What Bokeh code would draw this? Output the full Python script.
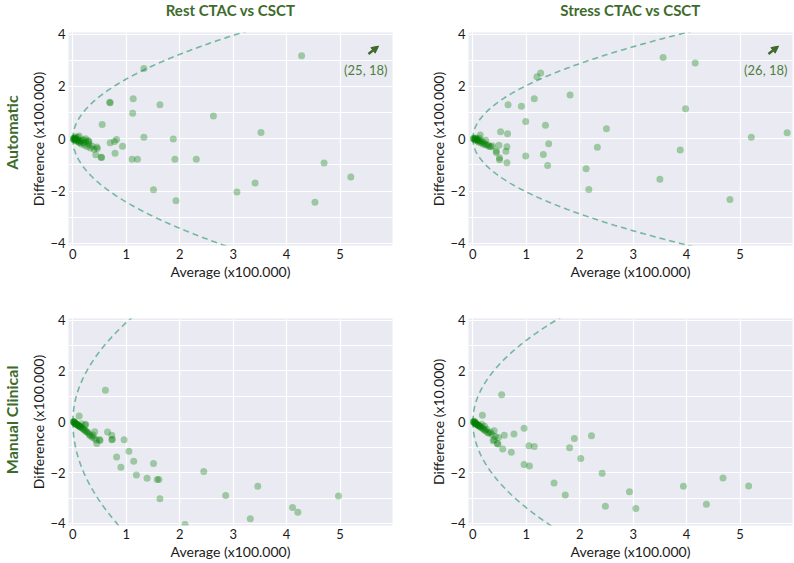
from bokeh.plotting import figure
from bokeh.layouts import column, row
from bokeh.models import Range1d, FixedTicker, Arrow, NormalHead, Label, Spacer
from bokeh.embed import file_html
from bokeh.resources import INLINE
import numpy as np

# ---------------- data ----------------
col_titles = ["Rest CTAC vs CSCT", "Stress CTAC vs CSCT"]
row_labels = ["Automatic", "Manual Clinical"]
x_label = "Average (x100.000)"
y_labels = ["Difference (x100.000)", "Difference (x100.000)",
            "Difference (x100.000)", "Difference (x10.000)"]
x_ticks = [0, 1, 2, 3, 4, 5]
y_ticks = [-4, -2, 0, 2, 4]
y_minor = [-3, -1, 1, 3]
outlier_labels = ["(25, 18)", "(26, 18)"]

# Automatic / Rest
tl_avg = [1.33, 4.28, 0.69, 0.70, 1.13, 1.63, 1.12, 2.63, 0.55, 3.52, 1.33, 1.88, 0.82,
          0.70, 0.78, 0.93, 0.79, 0.45, 0.43, 0.53, 0.54, 1.11, 1.21, 1.91, 2.31, 4.70,
          5.20, 3.41, 1.51, 3.07, 1.93, 4.53,
          0.02, 0.03, 0.04, 0.05, 0.06, 0.07, 0.08, 0.09, 0.10, 0.11, 0.12, 0.13, 0.15,
          0.16, 0.18, 0.20, 0.22, 0.24, 0.25, 0.27, 0.29, 0.30, 0.33, 0.36, 0.40, 0.12,
          0.05, 0.01, 0.02, 0.03, 0.21, 0.30, 0.46]
tl_diff = [2.68, 3.17, 1.39, 1.38, 1.53, 1.30, 0.97, 0.87, 0.54, 0.24, 0.06, -0.01, -0.03,
           -0.15, -0.11, -0.29, -0.55, -0.32, -0.61, -0.71, -0.72, -0.78, -0.78, -0.78, -0.78, -0.93,
           -1.46, -1.69, -1.95, -2.04, -2.37, -2.43,
           0.00, -0.02, 0.02, -0.05, 0.00, -0.08, -0.03, -0.10, 0.05, -0.12, -0.06, -0.15, -0.10,
           -0.20, -0.05, -0.15, -0.25, 0.00, -0.12, -0.30, -0.08, -0.20, -0.35, -0.28, -0.40, 0.10,
           0.08, 0.01, -0.04, 0.03, -0.05, -0.11, -0.37]

# Automatic / Stress
tr_avg = [3.56, 4.16, 1.27, 1.20, 1.82, 1.15, 0.66, 0.91, 3.98, 0.99, 1.36, 2.50, 0.52,
          0.65, 5.88, 5.21, 1.42, 0.64, 0.49, 2.33, 3.88, 0.62, 0.44, 0.99, 1.32, 0.50,
          0.50, 0.64, 1.40, 2.12, 3.50, 2.17, 4.81,
          0.01, 0.02, 0.03, 0.04, 0.05, 0.06, 0.07, 0.08, 0.09, 0.10, 0.11, 0.12, 0.13,
          0.14, 0.15, 0.17, 0.19, 0.21, 0.23, 0.24, 0.26, 0.29, 0.31, 0.34, 0.37, 0.44]
tr_diff = [3.10, 2.89, 2.51, 2.37, 1.67, 1.53, 1.30, 1.24, 1.15, 0.66, 0.52, 0.38, 0.27,
           0.19, 0.23, 0.06, -0.19, -0.31, -0.25, -0.33, -0.43, -0.48, -0.53, -0.66, -0.60, -0.73,
           -0.80, -0.92, -1.02, -1.15, -1.55, -1.94, -2.32,
           0.00, 0.02, -0.02, 0.01, -0.04, 0.03, -0.06, -0.02, -0.09, -0.04, -0.12, 0.02, -0.08,
           0.14, -0.15, -0.10, -0.20, -0.15, -0.22, -0.06, -0.25, -0.24, -0.30, -0.31, -0.28, -0.47]

# Manual Clinical / Rest
bl_avg = [0.61, 0.12, 0.23, 0.41, 0.65, 0.73, 0.73, 0.74, 0.51, 0.45, 0.96, 1.05, 0.82,
          1.14, 1.51, 0.90, 1.19, 1.39, 1.58, 1.61, 2.45, 1.63, 2.86, 3.46, 4.97, 4.11,
          4.21, 3.32, 2.10,
          0.01, 0.02, 0.03, 0.04, 0.05, 0.06, 0.07, 0.08, 0.09, 0.10, 0.11, 0.12, 0.13,
          0.14, 0.15, 0.17, 0.19, 0.21, 0.23, 0.25, 0.27, 0.29, 0.31, 0.33, 0.36, 0.38,
          0.24, 0.16, 0.40, 0.44, 0.50, 0.02, 0.03]
bl_diff = [1.24, 0.23, -0.13, -0.39, -0.40, -0.53, -0.71, -0.69, -0.74, -0.86, -0.71, -1.16, -1.39,
           -1.55, -1.64, -1.79, -2.09, -2.22, -2.27, -2.27, -1.96, -3.03, -2.90, -2.54, -2.92, -3.37,
           -3.56, -3.81, -4.04,
           0.00, -0.02, -0.04, -0.05, -0.07, -0.08, -0.10, -0.11, -0.13, -0.14, -0.16, -0.17, -0.19,
           -0.20, -0.22, -0.25, -0.28, -0.31, -0.34, -0.38, -0.40, -0.44, -0.50, -0.55, -0.60, -0.52,
           -0.10, -0.08, -0.65, -0.72, -0.70, 0.01, -0.01]

# Manual Clinical / Stress
br_avg = [0.54, 0.18, 0.96, 0.40, 0.59, 0.77, 2.22, 1.90, 0.48, 0.40, 0.46, 0.47, 1.05,
          1.15, 1.81, 0.56, 0.72, 2.02, 0.96, 1.06, 2.42, 4.68, 1.52, 3.94, 5.16, 2.93,
          1.73, 4.37, 2.48, 3.05,
          0.01, 0.02, 0.03, 0.04, 0.05, 0.06, 0.07, 0.08, 0.09, 0.10, 0.11, 0.12, 0.13,
          0.14, 0.16, 0.18, 0.20, 0.22, 0.24, 0.26, 0.28, 0.30, 0.33, 0.36, 0.17, 0.22,
          0.38, 0.42, 0.02, 0.04]
br_diff = [1.06, 0.26, -0.26, -0.35, -0.53, -0.48, -0.55, -0.66, -0.62, -0.71, -0.86, -0.88, -0.94,
           -0.97, -1.02, -1.07, -1.20, -1.45, -1.68, -1.74, -2.03, -2.21, -2.41, -2.54, -2.53, -2.75,
           -2.88, -3.24, -3.32, -3.41,
           0.00, -0.02, -0.03, -0.05, -0.06, -0.08, -0.09, -0.11, -0.12, -0.14, -0.15, -0.17, -0.18,
           -0.20, -0.23, -0.26, -0.29, -0.32, -0.36, -0.30, -0.42, -0.45, -0.40, -0.50, -0.10, -0.18,
           -0.75, -0.58, 0.02, 0.00]

# limits-of-agreement curves: diff = +cu*sqrt(avg) and -cl*sqrt(avg)
loa_upper = [2.28, 2.03, 3.90, 3.20]
loa_lower = [2.42, 2.03, 4.40, 3.38]

# ---------------- styling ----------------
FONT = "Lato"
DARK_GREEN = "#3e6b2c"
NOTE_GREEN = "#4f7d3f"
PT_COLOR = "green"
CURVE_COLOR = "#5fae8f"
BG = "#eaeaf2"

LAB_W = 22                 # width of the row-label strip
L_W, R_W = 375, 396        # panel figure widths
L_MBL, R_MBL = 46, 71      # left borders (frame starts)
L_MBR, R_MBR = 5, 1
TITLE_H, TOP_H, BOT_H = 20, 266, 276


def style_axis(ax):
    ax.axis_line_color = None
    ax.major_tick_line_color = None
    ax.minor_tick_line_color = None
    ax.major_tick_out = 0
    ax.major_tick_in = 0
    ax.minor_tick_out = 0
    ax.minor_tick_in = 0


def text_strip(text, width, height, mbl, mbr, mbt, mbb, angle, size, color, ypos=0.5):
    p = figure(width=width, height=height, x_range=Range1d(0, 1), y_range=Range1d(0, 1),
               x_axis_type=None, y_axis_type=None, output_backend="svg",
               toolbar_location=None, min_border_left=mbl, min_border_right=mbr,
               min_border_top=mbt, min_border_bottom=mbb)
    p.outline_line_color = None
    p.background_fill_color = "white"
    p.border_fill_color = "white"
    p.add_layout(Label(x=0.5, y=ypos, text=text, angle=angle,
                       text_align="center", text_baseline="middle",
                       text_font=FONT, text_font_size=size,
                       text_font_style="bold", text_color=color))
    return p


def make_panel(avg, diff, cu, cl, ylabel, width, height, mbl, mbr, mbt, mbb,
               outlier=None):
    p = figure(width=width, height=height,
               x_range=Range1d(-0.08, 5.98), y_range=Range1d(-4.08, 4.06),
               output_backend="svg", toolbar_location=None,
               min_border_left=mbl, min_border_right=mbr,
               min_border_top=mbt, min_border_bottom=mbb)
    p.background_fill_color = BG
    p.border_fill_color = "white"
    p.outline_line_color = None

    p.xaxis.ticker = FixedTicker(ticks=x_ticks)
    p.yaxis.ticker = FixedTicker(ticks=y_ticks, minor_ticks=y_minor)
    p.xaxis.axis_label = x_label
    p.yaxis.axis_label = ylabel
    for ax in (p.xaxis, p.yaxis):
        style_axis(ax)
        ax.major_label_text_font = FONT
        ax.major_label_text_font_size = "13px"
        ax.major_label_text_color = "#1a1a1a"
        ax.axis_label_text_font = FONT
        ax.axis_label_text_font_size = "14px"
        ax.axis_label_text_font_style = "normal"
        ax.axis_label_text_color = "#1a1a1a"
    p.yaxis.major_label_standoff = 3
    p.yaxis.axis_label_standoff = 0
    p.xaxis.major_label_standoff = 3
    p.xaxis.axis_label_standoff = 1

    p.xgrid.grid_line_color = "white"
    p.ygrid.grid_line_color = "white"
    p.ygrid.minor_grid_line_color = "white"
    p.xgrid.grid_line_width = 1.2
    p.ygrid.grid_line_width = 1.2
    p.ygrid.minor_grid_line_width = 1.2

    xs = np.linspace(0, 6, 400)
    p.line(xs, cu * np.sqrt(xs), line_color=CURVE_COLOR, line_width=1.6,
           line_dash="6 4", line_alpha=0.85)
    p.line(xs, -cl * np.sqrt(xs), line_color=CURVE_COLOR, line_width=1.6,
           line_dash="6 4", line_alpha=0.85)

    p.scatter(avg, diff, size=7, fill_color=PT_COLOR, fill_alpha=0.33,
              line_color=None)

    if outlier is not None:
        p.add_layout(Arrow(end=NormalHead(size=7, fill_color=DARK_GREEN,
                                          line_color=DARK_GREEN),
                           x_start=5.53, y_start=3.24, x_end=5.72, y_end=3.54,
                           line_color=DARK_GREEN, line_width=2.5))
        p.add_layout(Label(x=5.48, y=2.64, text=outlier, text_align="center",
                           text_baseline="middle", text_font=FONT,
                           text_font_size="13px", text_color=NOTE_GREEN))
    return p


# column titles
t_left = text_strip(col_titles[0], L_W, TITLE_H, L_MBL, L_MBR, 0, 0, 0, "15px",
                    DARK_GREEN, ypos=0.55)
t_right = text_strip(col_titles[1], R_W, TITLE_H, R_MBL, R_MBR, 0, 0, 0, "15px",
                     DARK_GREEN, ypos=0.55)

# row labels
lab_top = text_strip(row_labels[0], LAB_W, TOP_H, 0, 0, 12, 41, np.pi / 2, "16px",
                     DARK_GREEN, ypos=0.53)
lab_bot = text_strip(row_labels[1], LAB_W, BOT_H, 0, 0, 32, 35, np.pi / 2, "16px",
                     DARK_GREEN, ypos=0.51)

tl = make_panel(tl_avg, tl_diff, loa_upper[0], loa_lower[0], y_labels[0],
                L_W, TOP_H, L_MBL, L_MBR, 12, 41, outlier=outlier_labels[0])
tr = make_panel(tr_avg, tr_diff, loa_upper[1], loa_lower[1], y_labels[1],
                R_W, TOP_H, R_MBL, R_MBR, 12, 41, outlier=outlier_labels[1])
bl = make_panel(bl_avg, bl_diff, loa_upper[2], loa_lower[2], y_labels[2],
                L_W, BOT_H, L_MBL, L_MBR, 32, 35)
br = make_panel(br_avg, br_diff, loa_upper[3], loa_lower[3], y_labels[3],
                R_W, BOT_H, R_MBL, R_MBR, 32, 35)

layout = column(row(Spacer(width=LAB_W, height=TITLE_H), t_left, t_right),
                row(lab_top, tl, tr),
                row(lab_bot, bl, br))
open("out.html", "w").write(file_html(layout, INLINE))
